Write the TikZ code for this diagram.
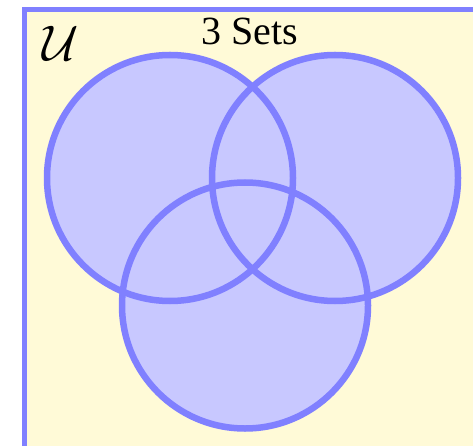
\RequirePackage{fix-cm}
\documentclass[tikz,border=0pt]{standalone}
\usepackage{fontspec}
\setmainfont{Liberation Serif}
\definecolor{bgyellow}{RGB}{255,250,215}
\definecolor{setfill}{RGB}{200,200,255}
\definecolor{setline}{RGB}{128,128,255}
\tikzset{
  setcircle/.style={circle, minimum size=246pt, inner sep=0pt},
}
\begin{document}
\begin{tikzpicture}[x=1pt,y=-1pt]
\useasboundingbox (0,0) rectangle (473,446);
\clip (0,0) rectangle (473,446);
\draw[setline, line width=5pt, fill=bgyellow] (24.5,9.5) rectangle (490,448);
\node[setcircle, fill=setfill] (A) at (170,178) {};
\node[setcircle, fill=setfill] (B) at (335,178) {};
\node[setcircle, fill=setfill] (C) at (245,305.5) {};
\draw[setline, line width=6.5pt] (A.center) circle[radius=123pt];
\draw[setline, line width=6.5pt] (B.center) circle[radius=123pt];
\draw[setline, line width=6.5pt] (C.center) circle[radius=123pt];
\node[anchor=base, inner sep=0pt, font=\fontsize{40}{44}\selectfont] (title) at (250,45) {3 Sets};
\node[anchor=base, inner sep=0pt] (U) at (61,61) {\scalebox{5}{$\mathcal{U}$}};
\end{tikzpicture}
\end{document}
